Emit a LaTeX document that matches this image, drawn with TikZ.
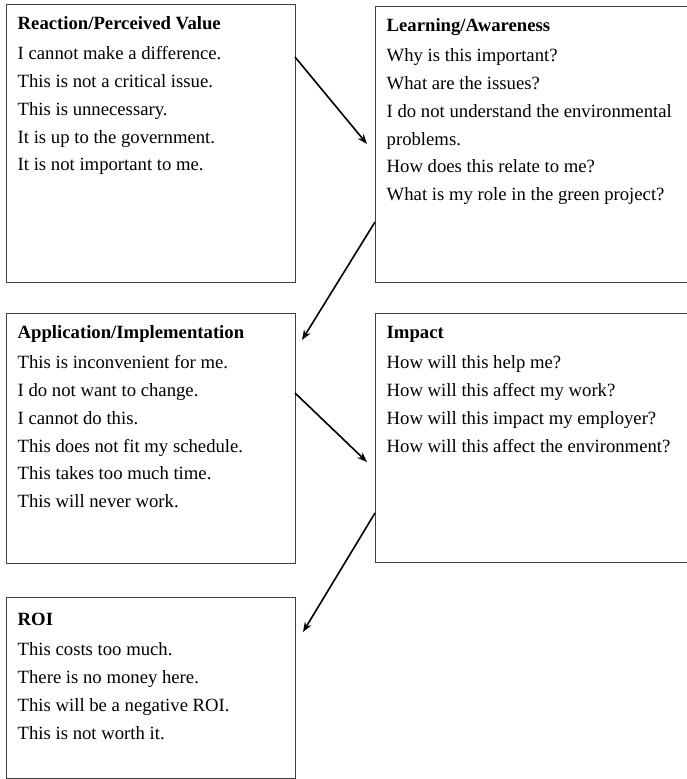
\documentclass[tikz,border=0pt]{standalone}
\usepackage{fontspec}
\setmainfont{Liberation Serif}
\usetikzlibrary{arrows.meta, calc}

\begin{document}
\begin{tikzpicture}[x=1pt, y=-1pt,
  box/.style={draw=black!75, line width=1pt, minimum width=289pt, outer sep=0pt, inner sep=0pt, anchor=north west},
  wide/.style={box, minimum width=330pt},
  txt/.style={anchor=north west, align=left, inner xsep=11.5pt, inner ysep=11pt, font=\fontsize{18.7}{27.7}\selectfont},
  arr/.style={-{Stealth[length=10pt, width=7.5pt]}, line width=1.6pt}
]
\useasboundingbox (0,0) rectangle (687,779);
\clip (0,0) rectangle (687,779);

% the five boxes
\node[box, minimum height=278pt] at (6,4) (reaction) {};
\node[wide, minimum height=276pt] at (375,6) (learning) {};
\node[box, minimum height=250pt] at (6,313) (application) {};
\node[wide, minimum height=249pt] at (375,313) (impact) {};
\node[box, minimum height=181pt] at (6,597) (roi) {};

% their texts
\node[txt] at (reaction.north west) (reaction_text) {\textbf{\rule{0pt}{14pt}Reaction/Perceived Value}\\[3pt]
  I cannot make a difference.\\
  This is not a critical issue.\\
  This is unnecessary.\\
  It is up to the government.\\
  It is not important to me.};
\node[txt] at (learning.north west) (learning_text) {\textbf{\rule{0pt}{14pt}Learning/Awareness}\\[3pt]
  Why is this important?\\
  What are the issues?\\
  I do not understand the environmental\\
  problems.\\
  How does this relate to me?\\
  What is my role in the green project?};
\node[txt] at (application.north west) (application_text) {\textbf{\rule{0pt}{14pt}Application/Implementation}\\[3pt]
  This is inconvenient for me.\\
  I do not want to change.\\
  I cannot do this.\\
  This does not fit my schedule.\\
  This takes too much time.\\
  This will never work.};
\node[txt] at (impact.north west) (impact_text) {\textbf{\rule{0pt}{14pt}Impact}\\[3pt]
  How will this help me?\\
  How will this affect my work?\\
  How will this impact my employer?\\
  How will this affect the environment?};
\node[txt, inner ysep=14pt] at (roi.north west) (roi_text) {\textbf{\rule{0pt}{14pt}ROI}\\[3pt]
  This costs too much.\\
  There is no money here.\\
  This will be a negative ROI.\\
  This is not worth it.};

% zig-zag between the columns
\draw[arr] ($(reaction.north east)+(0,53)$) -- ($(learning.north west)+(-8,138)$);
\draw[arr] ($(learning.north west)+(0,216)$) -- ($(application.north east)+(7,27)$);
\draw[arr] ($(application.north east)+(0,80)$) -- ($(impact.north west)+(-8,149)$);
\draw[arr] ($(impact.north west)+(0,200)$) -- ($(roi.north east)+(8,35)$);
\end{tikzpicture}
\end{document}
